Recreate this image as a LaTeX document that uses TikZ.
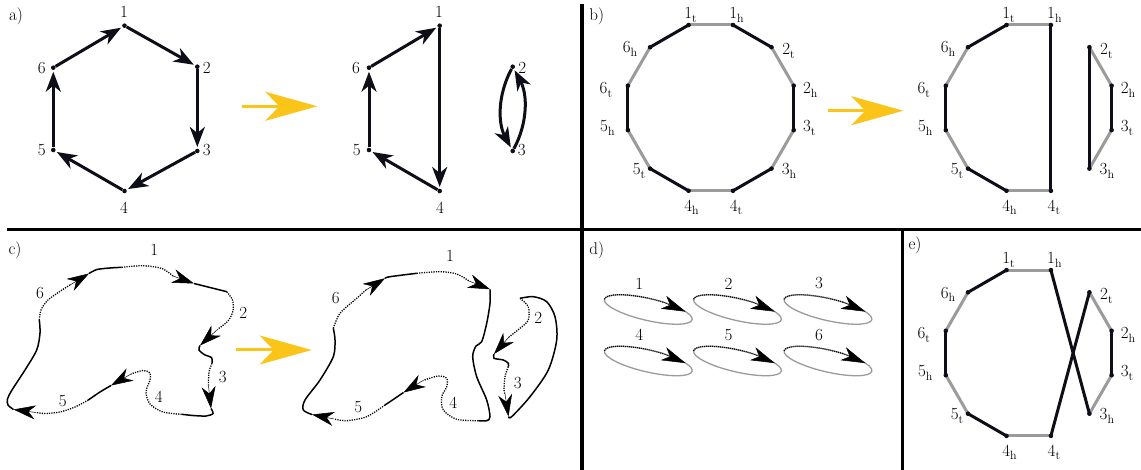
\documentclass[tikz,border=0pt]{standalone}
\usetikzlibrary{arrows.meta,calc}
\definecolor{blk}{RGB}{14,14,24}
\definecolor{gry}{RGB}{155,155,155}
\definecolor{ylw}{RGB}{250,196,24}
\tikzset{
  dot/.style={circle, fill=blk, inner sep=0pt, minimum size=4.6pt},
  lbl/.style={inner sep=0pt},
  hexedge/.style={blk, line width=3pt, -{Stealth[length=20pt,width=15pt,inset=6pt]}, shorten >=1.5pt},
  blkseg/.style={blk, line width=3pt},
  gryseg/.style={gry, line width=3pt},
  yarr/.style={ylw, line width=3pt, -{Stealth[length=52pt,width=29pt,inset=14pt]}},
  divider/.style={black, line width=3.3pt},
  csolid/.style={black, line width=1.5pt},
  cdotted/.style={black, line width=1.3pt, dash pattern=on 1.2pt off 1.2pt},
  ctip/.style={black, line width=0.5pt, -{Stealth[length=22pt,width=14pt,inset=7pt]}},
  dell/.style={gry, line width=1.3pt},
  ddotted/.style={black, line width=1.2pt, dash pattern=on 1pt off 1pt},
  dtip/.style={black, line width=0.5pt, -{Stealth[length=24pt,width=14pt,inset=7pt]}}
}
\newcommand{\sbx}[1]{\raisebox{-0.22em}{\fontsize{12}{12}\selectfont #1}}
\newcommand{\dodec}[3]{%
  \foreach \n/\dx/\dy in {1t/-22.2/-82.9, 1h/22.2/-82.9, 2t/60.7/-60.7, 2h/82.9/-22.2, 3t/82.9/22.2, 3h/60.7/60.7, 4t/22.2/82.9, 4h/-22.2/82.9, 5t/-60.7/60.7, 5h/-82.9/22.2, 6t/-82.9/-22.2, 6h/-60.7/-60.7}
    {\coordinate (#1\n) at ({#2+\dx},{#3+\dy});}
}
\newcommand{\dodecgrey}[1]{%
  \foreach \u/\v in {1t/1h, 2t/2h, 3t/3h, 4t/4h, 5t/5h, 6t/6h}
    {\draw[gryseg] (#1\u) -- (#1\v);}
}
\newcommand{\dodecdots}[1]{%
  \foreach \n/\d/\s/\ox/\oy in {1t/1/t/2/-10, 1h/1/h/3.5/-10, 2t/2/t/17/3.5, 2h/2/h/16.5/4, 3t/3/t/15.5/-2, 3h/3/h/17.5/2, 4t/4/t/3/16.5, 4h/4/h/3/16.5, 5t/5/t/-11/2, 5h/5/h/-20.5/-2, 6t/6/t/-22/4, 6h/6/h/-20/2}
    {\node[dot] (#1D\n) at (#1\n) {};
     \node[lbl] (#1L\n) at ($(#1\n)+(\ox,\oy)$) {\d\sbx{\s}};}
}
\begin{document}
\begin{tikzpicture}[x=1pt, y=-1pt, font=\fontsize{17}{20}\selectfont]
\useasboundingbox (0,0) rectangle (1141,470);
\fill[white] (0,0) rectangle (1141,470);

% dividers
\coordinate (dv1a) at (582,4); \coordinate (dv1b) at (582,470);
\coordinate (dh1a) at (7,229.5); \coordinate (dh1b) at (1141,229.5);
\coordinate (dv2a) at (902.7,229.5); \coordinate (dv2b) at (902.7,470);
\draw[divider] (dv1a) -- (dv1b);
\draw[divider] (dh1a) -- (dh1b);
\draw[divider] (dv2a) -- (dv2b);

% panel labels
\node[lbl] (pa) at (16,16) {a)};
\node[lbl] (pb) at (596.7,16) {b)};
\node[lbl] (pc) at (15,250) {c)};
\node[lbl] (pd) at (596.7,250) {d)};
\node[lbl] (pe) at (915,245) {e)};

% ---------------- panel a ----------------
\node[dot] (a1) at (124.5,25.7) {};
\node[dot] (a2) at (197.3,66.7) {};
\node[dot] (a3) at (197.3,151) {};
\node[dot] (a4) at (124.5,191) {};
\node[dot] (a5) at (53.3,150) {};
\node[dot] (a6) at (53.3,67.7) {};
\draw[hexedge] (a6) -- (a1);
\draw[hexedge] (a1) -- (a2);
\draw[hexedge] (a2) -- (a3);
\draw[hexedge] (a3) -- (a4);
\draw[hexedge] (a4) -- (a5);
\draw[hexedge] (a5) -- (a6);
\node[lbl] (la1) at (124,12) {1};
\node[lbl] (la2) at (206.7,68.3) {2};
\node[lbl] (la3) at (206.7,150) {3};
\node[lbl] (la4) at (124,208.3) {4};
\node[lbl] (la5) at (41.7,150) {5};
\node[lbl] (la6) at (41.7,67.7) {6};

\coordinate (ya1s) at (241.7,106.3); \coordinate (ya1e) at (317.3,106.3);
\draw[yarr] (ya1s) -- (ya1e);

\node[dot] (r1) at (439.7,25.7) {};
\node[dot] (r4) at (439.7,191) {};
\node[dot] (r5) at (369,150) {};
\node[dot] (r6) at (369,67.7) {};
\node[dot] (r2) at (512.7,66.7) {};
\node[dot] (r3) at (512.7,151) {};
\draw[hexedge] (r6) -- (r1);
\draw[hexedge] (r1) -- (r4);
\draw[hexedge] (r4) -- (r5);
\draw[hexedge] (r5) -- (r6);
\draw[hexedge] (r2) .. controls ($(r2)+(-15,28)$) and ($(r3)+(-15,-28)$) .. (r3);
\draw[hexedge] (r3) .. controls ($(r3)+(15,-28)$) and ($(r2)+(15,28)$) .. (r2);
\node[lbl] (lr1) at (439,12.3) {1};
\node[lbl] (lr6) at (356,68) {6};
\node[lbl] (lr5) at (356.7,150) {5};
\node[lbl] (lr4) at (440,208.3) {4};
\node[lbl] (lr2) at (522.3,68) {2};
\node[lbl] (lr3) at (521.7,150) {3};

% ---------------- panel b ----------------
\dodec{b}{710.8}{107.9}
\dodecgrey{b}
\foreach \u/\v in {6h/1t, 1h/2t, 2h/3t, 3h/4t, 4h/5t, 5h/6t}
  {\draw[blkseg] (b\u) -- (b\v);}
\dodecdots{b}

\coordinate (ya2s) at (828.3,110.7); \coordinate (ya2e) at (903.3,110.7);
\draw[yarr] (ya2s) -- (ya2e);

\dodec{q}{1028.7}{107.9}
\dodecgrey{q}
\foreach \u/\v in {6h/1t, 1h/4t, 2h/3t, 2t/3h, 4h/5t, 5h/6t}
  {\draw[blkseg] (q\u) -- (q\v);}
\dodecdots{q}

% ---------------- panel e ----------------
\dodec{e}{1028.7}{353}
\dodecgrey{e}
\foreach \u/\v in {6h/1t, 1h/3h, 2t/4t, 2h/3t, 4h/5t, 5h/6t}
  {\draw[blkseg] (e\u) -- (e\v);}
\dodecdots{e}

% ---------------- panel c ----------------
% left loop
\draw[cdotted] plot[smooth] coordinates {(121.7,267.3) (143,265.7) (162,268.5) (173,276)};
\coordinate (c1b) at (173,276); \coordinate (c1t) at (194,283.5);
\draw[ctip] (c1b) -- (c1t);
\draw[csolid] plot[smooth] coordinates {(194,283.5) (210,287.5) (226.7,291.7)};
\draw[cdotted] plot[smooth] coordinates {(226.7,291.7) (232.5,300) (233,311) (228,321) (218,329)};
\coordinate (c2b) at (218,329); \coordinate (c2t) at (200,345.5);
\draw[ctip] (c2b) -- (c2t);
\draw[csolid] plot[smooth] coordinates {(200,345.5) (199,350) (205,355) (211.5,357.5) (212,363.3)};
\draw[cdotted] plot[smooth] coordinates {(212,363.3) (209,372) (208.5,386)};
\coordinate (c3b) at (208.5,386); \coordinate (c3t) at (211,408.5);
\draw[ctip] (c3b) -- (c3t);
\draw[csolid] plot[smooth] coordinates {(211,408.5) (213,413.5) (206,416) (193,415.5) (181.7,414.3)};
\draw[cdotted] plot[smooth] coordinates {(181.7,414.3) (163,412) (150,404) (146,392) (150,380) (150,373) (143,370.5) (131,374)};
\coordinate (c4b) at (131,374); \coordinate (c4t) at (111,385.5);
\draw[ctip] (c4b) -- (c4t);
\draw[csolid] plot[smooth] coordinates {(111,385.5) (100,392) (88.3,400)};
\draw[cdotted] plot[smooth] coordinates {(88.3,400) (75,407) (60,412) (45,413.5) (36,412.5)};
\coordinate (c5b) at (36,412.5); \coordinate (c5t) at (13.5,409.5);
\draw[ctip] (c5b) -- (c5t);
\draw[csolid] plot[smooth] coordinates {(13.5,409.5) (8,405) (7.5,399) (12,390) (25,370) (36.7,350) (40,333) (39.3,320)};
\draw[cdotted] plot[smooth] coordinates {(39.3,320) (41,310) (48,300) (62,290) (70,285)};
\coordinate (c6b) at (70,285); \coordinate (c6t) at (89,273.5);
\draw[ctip] (c6b) -- (c6t);
\draw[csolid] plot[smooth] coordinates {(89,273.5) (97,269.5) (110,268) (121.7,267.3)};
\node[lbl] (lc1) at (154.3,250) {1};
\node[lbl] (lc2) at (243.3,312.7) {2};
\node[lbl] (lc3) at (222.7,376.7) {3};
\node[lbl] (lc4) at (158.7,396.7) {4};
\node[lbl] (lc5) at (62.7,401) {5};
\node[lbl] (lc6) at (40,292.7) {6};

\coordinate (ya3s) at (236,350); \coordinate (ya3e) at (311.7,350);
\draw[yarr] (ya3s) -- (ya3e);

% right big loop
\draw[cdotted] plot[smooth] coordinates {(416.7,273.3) (440,271.7) (456.7,274) (469,281)};
\coordinate (d1b) at (469,281); \coordinate (d1t) at (490,289.3);
\draw[ctip] (d1b) -- (d1t);
\draw[csolid] plot[smooth] coordinates {(490,289.3) (490,303.3) (486.7,323.3) (481.7,341.7) (476,346) (472.7,356.7) (476.7,376.7) (486.7,400) (490,416.7) (486.7,420.7) (478.3,420.7)};
\draw[cdotted] plot[smooth] coordinates {(478.3,420.7) (456.7,419.3) (443.3,410) (441.7,396.7) (446.7,386.7) (446.7,378.3) (438.3,376) (423,380.5)};
\coordinate (d4b) at (423,380.5); \coordinate (d4t) at (403.5,392.5);
\draw[ctip] (d4b) -- (d4t);
\draw[csolid] plot[smooth] coordinates {(403.5,392.5) (394,399) (385,405)};
\draw[cdotted] plot[smooth] coordinates {(385,405) (366.7,416.7) (346.7,420.7) (334,419)};
\coordinate (d5b) at (334,419); \coordinate (d5t) at (312,414.5);
\draw[ctip] (d5b) -- (d5t);
\draw[csolid] plot[smooth] coordinates {(312,414.5) (303.3,410) (305,400) (320,380) (333.3,356.7) (335,340) (333.3,328.3)};
\draw[cdotted] plot[smooth] coordinates {(333.3,328.3) (340,313.3) (356.7,298.3) (366,290)};
\coordinate (d6b) at (366,290); \coordinate (d6t) at (385,278.3);
\draw[ctip] (d6b) -- (d6t);
\draw[csolid] plot[smooth] coordinates {(385,278.3) (390,276.7) (416.7,273.3)};
% right small loop
\draw[cdotted] plot[smooth] coordinates {(520,298.3) (528.3,306.7) (528.3,320) (520,328.3) (509,337)};
\coordinate (d2b) at (509,337); \coordinate (d2t) at (494,354);
\draw[ctip] (d2b) -- (d2t);
\draw[csolid] plot[smooth] coordinates {(494,354) (494,358.3) (503.3,360) (508.3,363.3) (508.3,366.7)};
\draw[cdotted] plot[smooth] coordinates {(508.3,366.7) (505,376.7) (504,390) (505,394)};
\coordinate (d3b) at (505,394); \coordinate (d3t) at (508.5,416.5);
\draw[ctip] (d3b) -- (d3t);
\draw[csolid] plot[smooth] coordinates {(508.5,416.5) (511.7,416.7) (530,396.7) (548.3,370) (556.7,340) (555,316.7) (546.7,301.7) (533.3,296.7) (520,298.3)};
\node[lbl] (ld1) at (450,256) {1};
\node[lbl] (ld2) at (538.3,318.3) {2};
\node[lbl] (ld3) at (517.7,382.7) {3};
\node[lbl] (ld4) at (453.3,402.7) {4};
\node[lbl] (ld5) at (358.3,406.7) {5};
\node[lbl] (ld6) at (335.7,298.3) {6};

% ---------------- panel d ----------------
\foreach \i/\cx/\cy in {1/648.3/309.5, 2/737.5/309.5, 3/828/309.5, 4/648.3/361, 5/737.5/361, 6/828/361}
{
  \begin{scope}[shift={(\cx,\cy)}, rotate=-13]
    \draw[dell] (0,0) ellipse [x radius=45, y radius=11];
    \draw[ddotted] plot[domain=180:73, samples=40, smooth] ({45*cos(\x)},{-11*sin(\x)});
    \coordinate (e\i b) at ({45*cos(73)},{-11*sin(73)});
    \coordinate (e\i t) at ({45*cos(35)},{-11*sin(35)});
    \draw[dtip] (e\i b) -- (e\i t);
  \end{scope}
  \node[lbl] (dl\i) at (\cx-9,\cy-26) {\i};
}
\end{tikzpicture}
\end{document}
